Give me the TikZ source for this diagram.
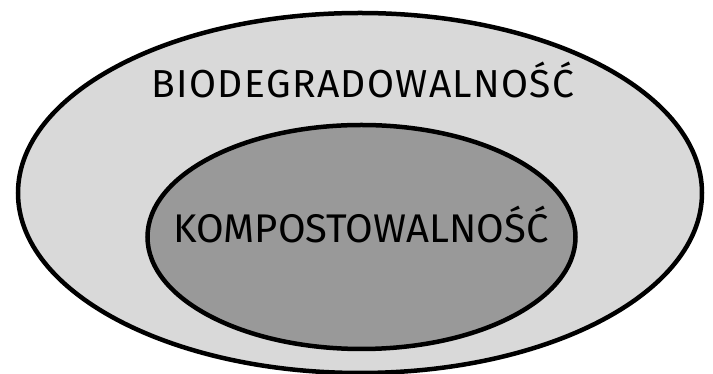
\documentclass[tikz,border=0pt]{standalone}
\usepackage{fontspec}
\setmainfont{Fira Sans}
\definecolor{outerfill}{HTML}{D9D9D9}
\definecolor{innerfill}{HTML}{999999}
\tikzset{
  setbox/.style={draw=black, line width=4.5pt},
  setlabel/.style={anchor=base, inner sep=0pt, text=black}
}
\begin{document}
\begin{tikzpicture}[x=1pt,y=1pt]
  \useasboundingbox (0,0) rectangle (713,374);
  % outer set: biodegradability
  \draw[setbox, fill=outerfill] (360,181) ellipse [x radius=342, y radius=180];
  % inner set: compostability
  \draw[setbox, fill=innerfill] (361.5,137) ellipse [x radius=214, y radius=112];
  \node[setlabel, font=\fontsize{39}{43}\selectfont\addfontfeatures{LetterSpace=3.5}] (bio) at (363,276) {BIODEGRADOWALNOŚĆ};
  \node[setlabel, font=\fontsize{40}{44}\selectfont] (komp) at (361,131) {KOMPOSTOWALNOŚĆ};
\end{tikzpicture}
\end{document}
